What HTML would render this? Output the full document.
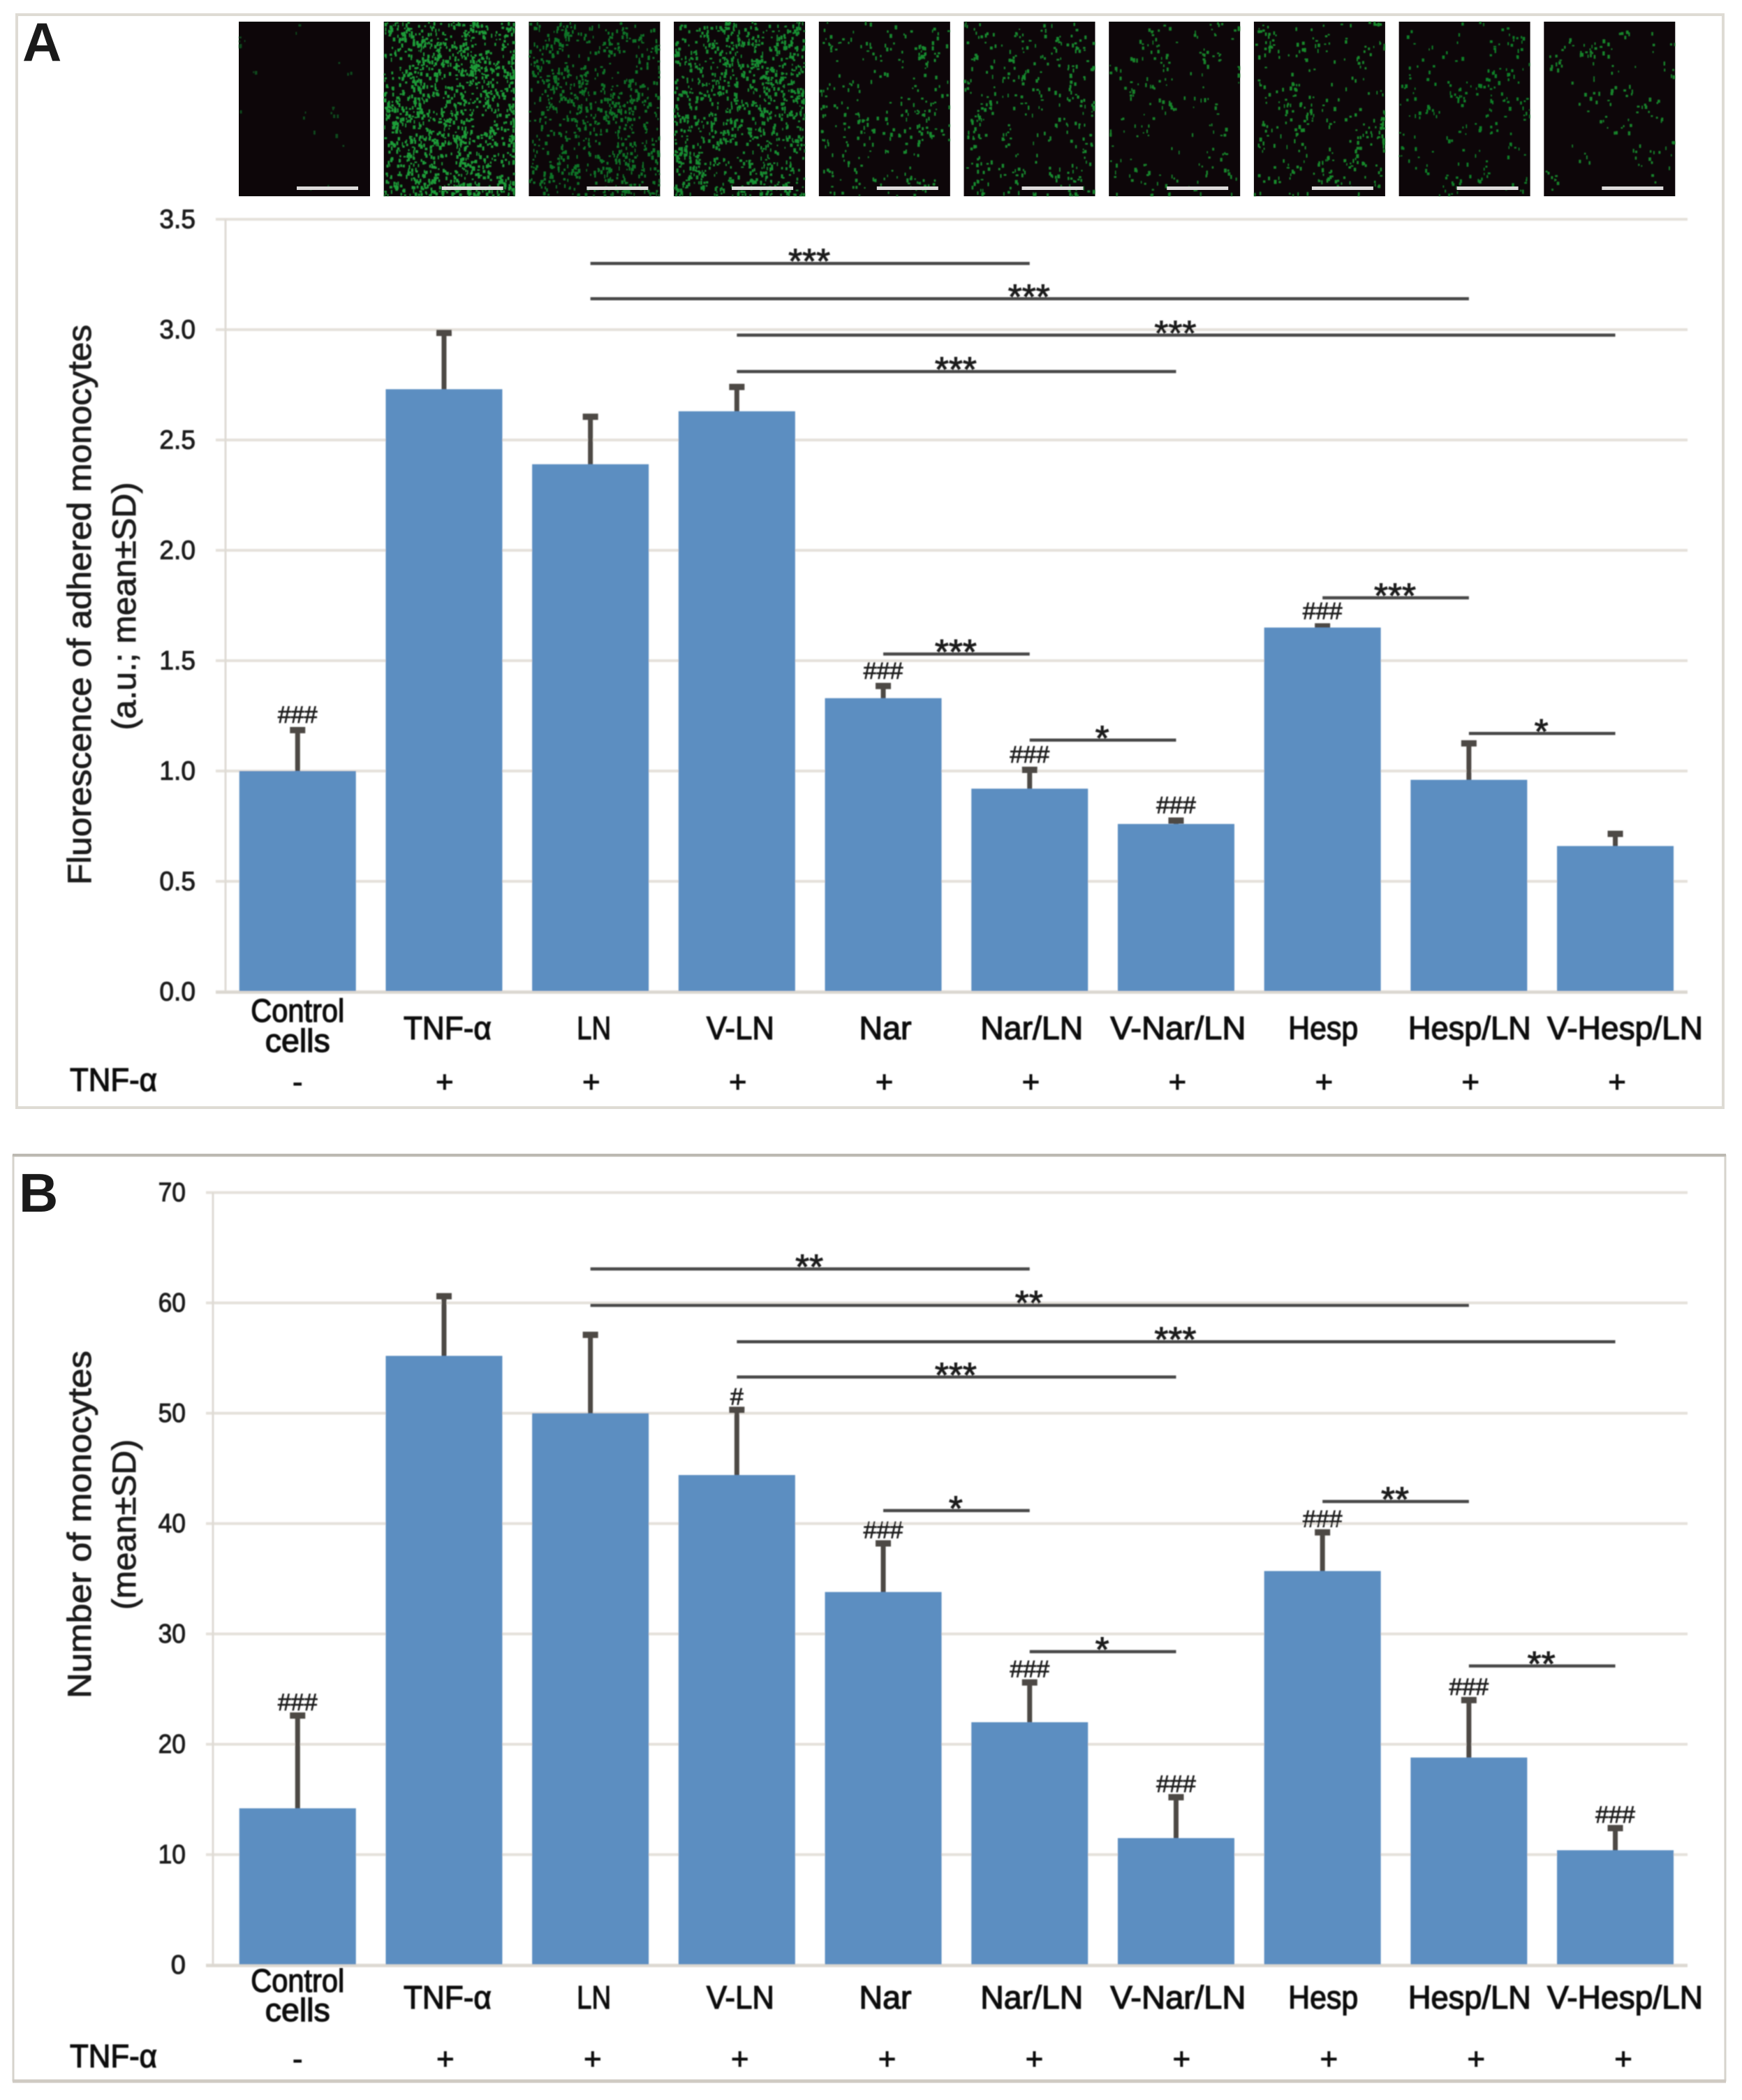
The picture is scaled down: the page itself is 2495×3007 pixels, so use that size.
<!DOCTYPE html>
<html lang="en">
<head>
<meta charset="utf-8">
<title>Monocyte adhesion charts</title>
<style>
html,body{margin:0;padding:0;background:#fff;width:2495px;height:3007px;overflow:hidden}
svg{display:block;position:absolute;left:0;top:0}
text{font-family:"Liberation Sans",sans-serif;fill:#111}
.tick{font-size:38px;fill:#1c1c1c;stroke:#1c1c1c;stroke-width:1px}
.cat{font-size:46px;stroke:#111;stroke-width:1.3px}
.title{font-size:47px;fill:#1c1c1c;stroke:#1c1c1c;stroke-width:.9px}
.sign{font-size:44px;stroke:#111;stroke-width:.9px}
.stars{font-size:50px;fill:#1c1c1c;stroke:#1c1c1c;stroke-width:1px}
.hash{font-size:34px;fill:#1c1c1c;stroke:#1c1c1c;stroke-width:.8px}
.letter{font-size:78px;font-weight:700;fill:#1a1a1a}
</style>
</head>
<body>
<svg id="figure" xmlns="http://www.w3.org/2000/svg" width="2495" height="3007" viewBox="0 0 2495 3007">
<defs>
<filter id="soft" x="-2%" y="-2%" width="104%" height="104%"><feGaussianBlur stdDeviation="0.9"/></filter>
</defs>
<rect width="2495" height="3007" fill="#ffffff"/>
<rect x="24" y="21" width="2444" height="1565" fill="#fff" stroke="#dedbd4" stroke-width="4"/>
<g>
<rect x="19" y="1655" width="2452" height="1324" fill="#fff" stroke="#d6d3cc" stroke-width="3"/>
<line x1="18" x2="2472" y1="1654" y2="1654" stroke="#bcb9b2" stroke-width="4"/>
<line x1="18" x2="2472" y1="2980" y2="2980" stroke="#cfcac3" stroke-width="5"/>
</g>
<g id="micrographs"></g>
<g id="chartA" filter="url(#soft)"></g>
<g id="chartB" filter="url(#soft)"></g>
<text class="letter" x="32" y="87">A</text>
<text class="letter" x="27" y="1735">B</text>
</svg>
<script>
const categories = ["Control cells", "TNF-α", "LN", "V-LN", "Nar", "Nar/LN", "V-Nar/LN", "Hesp", "Hesp/LN", "V-Hesp/LN"];
const tnfSigns = ["-", "+", "+", "+", "+", "+", "+", "+", "+", "+"];

const valuesA = [1.00, 2.73, 2.39, 2.63, 1.33, 0.92, 0.76, 1.65, 0.96, 0.66];
const errorsA = [0.19, 0.26, 0.22, 0.115, 0.06, 0.09, 0.02, 0.01, 0.17, 0.06];
const ticksA = [0, 0.5, 1, 1.5, 2, 2.5, 3, 3.5];
const tickLabelsA = ["0.0", "0.5", "1.0", "1.5", "2.0", "2.5", "3.0", "3.5"];
const hashesA = ["###", "", "", "", "###", "###", "###", "###", "", ""];
const sigFromA = [2, 2, 3, 3, 4, 5, 7, 8];
const sigToA = [5, 8, 9, 6, 5, 6, 8, 9];
const sigLevelA = [3.30, 3.14, 2.975, 2.81, 1.53, 1.14, 1.785, 1.17];
const sigStarsA = ["***", "***", "***", "***", "***", "*", "***", "*"];

const valuesB = [14.2, 55.2, 50.0, 44.4, 33.8, 22.0, 11.5, 35.7, 18.8, 10.4];
const errorsB = [8.5, 5.5, 7.2, 6.0, 4.5, 3.7, 3.8, 3.6, 5.3, 2.1];
const ticksB = [0, 10, 20, 30, 40, 50, 60, 70];
const tickLabelsB = ["0", "10", "20", "30", "40", "50", "60", "70"];
const hashesB = ["###", "", "", "#", "###", "###", "###", "###", "###", "###"];
const sigFromB = [2, 2, 3, 3, 4, 5, 7, 8];
const sigToB = [5, 8, 9, 6, 5, 6, 8, 9];
const sigLevelB = [63.08, 59.78, 56.48, 53.28, 41.18, 28.4, 42.0, 27.1];
const sigStarsB = ["**", "**", "***", "***", "*", "*", "**", "**"];

const speckCounts = [25, 1400, 800, 1050, 290, 330, 190, 300, 210, 130];

const NS = "http://www.w3.org/2000/svg";
const BAND = 209.7, BAR_START = 321.4, BAR_W = 167, GRID_RIGHT = 2417;
const catWidths = {"TNF-α":126,"LN":49,"V-LN":97,"Nar":75,"Nar/LN":147,"V-Nar/LN":194,"Hesp":100,"Hesp/LN":176,"V-Hesp/LN":223};
const tickWidth = t => t.length * 18.2 + (t.indexOf('.') >= 0 ? -3 : 3);
const catNudge = i => i === 9 ? 14 : i >= 7 ? 1 : i >= 4 ? 3 : 5;

function make(tag, attrs, parent, txt) {
  const el = document.createElementNS(NS, tag);
  for (const k in attrs) el.setAttribute(k, attrs[k]);
  if (txt !== undefined) el.textContent = txt;
  parent.appendChild(el);
  return el;
}
function bandCenter(i) { return BAR_START + BAND * i + BAND / 2; }
function categorySlug(i) { return categories[i].toLowerCase().replace(/[^a-z]+/g, '-'); }

function drawChart(cfg) {
  const root = cfg.root;
  const y = v => cfg.y0 - (v / cfg.max) * (cfg.y0 - cfg.yTop);

  cfg.ticks.forEach((t, i) => {
    const g = make('line', {x1: cfg.gridLeft, x2: GRID_RIGHT, y1: y(t), y2: y(t), stroke: '#e5e1db', 'stroke-width': 4}, root);
    
    
    const l = make('text', {class: 'tick', x: cfg.tickRight, y: y(t) + 12.5, 'text-anchor': 'end', textLength: tickWidth(cfg.tickLabels[i]), lengthAdjust: 'spacingAndGlyphs'}, root, cfg.tickLabels[i]);
    
    
  });
  const ax = make('line', {x1: cfg.axisX, x2: cfg.axisX, y1: y(cfg.max), y2: cfg.y0, stroke: '#dfdbd5', 'stroke-width': 3}, root);
  
  

  cfg.values.forEach((v, i) => {
    const cx = bandCenter(i);
    const top = y(v + cfg.errors[i]);
    const stem = make('line', {x1: cx, x2: cx, y1: y(v) + 2, y2: top, stroke: '#4e4a45', 'stroke-width': 7}, root);
    
    
    const cap = make('rect', {x: cx - 11, y: top - 3, width: 22, height: 9, fill: '#4e4a45'}, root);
    
    
    const bar = make('rect', {x: cx - BAR_W / 2, y: y(v), width: BAR_W, height: cfg.y0 - y(v), fill: '#5b8ec1'}, root);
    
    
    if (cfg.hashes[i]) {
      const h = make('text', {class: 'hash', x: cx, y: top - cfg.hashGap, 'text-anchor': 'middle'}, root, cfg.hashes[i]);
      
      
    }
  });

  const base = make('line', {x1: cfg.gridLeft, x2: GRID_RIGHT, y1: cfg.y0 + 1, y2: cfg.y0 + 1, stroke: '#dcd8d1', 'stroke-width': 4}, root);
  
  

  cfg.sigFrom.forEach((a, k) => {
    const b = cfg.sigTo[k], ly = y(cfg.sigLevel[k]);
    const line = make('line', {x1: bandCenter(a), x2: bandCenter(b), y1: ly, y2: ly, stroke: '#484848', 'stroke-width': 4.5}, root);
    
    
    const s = cfg.sigStars[k];
    const st = make('text', {class: 'stars', x: (bandCenter(a) + bandCenter(b)) / 2 - 1, y: ly + 14, 'text-anchor': 'middle', textLength: s.length * 20, lengthAdjust: 'spacingAndGlyphs'}, root, s);
    
    
  });

  categories.forEach((c, i) => {
    const cx = bandCenter(i);
    if (i === 0) {
      const c1 = make('text', {class: 'cat', x: cx, y: cfg.ctrlY1, 'text-anchor': 'middle', textLength: 134, lengthAdjust: 'spacingAndGlyphs'}, root, 'Control');
      
      
      const c2 = make('text', {class: 'cat', x: cx, y: cfg.ctrlY2, 'text-anchor': 'middle', textLength: 93, lengthAdjust: 'spacingAndGlyphs'}, root, 'cells');
      
      
    } else {
      const t = make('text', {class: 'cat', x: cx + catNudge(i), y: cfg.catY, 'text-anchor': 'middle', textLength: catWidths[c], lengthAdjust: 'spacingAndGlyphs'}, root, c);
      
      
    }
    const sx = i === 0 ? cx : cfg.signStart + cfg.signStep * i;
    const sg = make('text', {class: 'sign', x: sx, y: cfg.signY, 'text-anchor': 'middle'}, root, tnfSigns[i]);
    
    
  });

  const row = make('text', {class: 'cat', x: 100, y: cfg.rowY, textLength: 125, lengthAdjust: 'spacingAndGlyphs'}, root, 'TNF-α');
  
  

  const t1 = make('text', {class: 'title', transform: 'translate(130,' + cfg.title1Y + ') rotate(-90)', 'text-anchor': 'middle', textLength: cfg.title1W, lengthAdjust: 'spacingAndGlyphs'}, root, cfg.title1);
  
  
  const t2 = make('text', {class: 'title', transform: 'translate(194,' + cfg.title2Y + ') rotate(-90)', 'text-anchor': 'middle', textLength: cfg.title2W, lengthAdjust: 'spacingAndGlyphs'}, root, cfg.title2);
  
  
}

drawChart({
  root: document.getElementById('chartA'), values: valuesA, errors: errorsA, ticks: ticksA, tickLabels: tickLabelsA,
  hashes: hashesA, sigFrom: sigFromA, sigTo: sigToA, sigLevel: sigLevelA, sigStars: sigStarsA,
  max: 3.5, y0: 1420, yTop: 314, gridLeft: 309, axisX: 323, tickRight: 280, hashGap: 9,
  catY: 1488, ctrlY1: 1463, ctrlY2: 1506, signY: 1564, signStart: 427, signStep: 209.9, rowY: 1562,
  title1: 'Fluorescence of adhered monocytes', title1Y: 866, title1W: 802,
  title2: '(a.u.; mean±SD)', title2Y: 868, title2W: 355
});
drawChart({
  root: document.getElementById('chartB'), values: valuesB, errors: errorsB, ticks: ticksB, tickLabels: tickLabelsB,
  hashes: hashesB, sigFrom: sigFromB, sigTo: sigToB, sigLevel: sigLevelB, sigStars: sigStarsB,
  max: 70, y0: 2813.7, yTop: 1707.6, gridLeft: 295, axisX: 305, tickRight: 266, hashGap: 6,
  catY: 2876, ctrlY1: 2852, ctrlY2: 2894, signY: 2963, signStart: 427, signStep: 210.9, rowY: 2960,
  title1: 'Number of monocytes', title1Y: 2183, title1W: 498,
  title2: '(mean±SD)', title2Y: 2183, title2W: 244
});

/* micrograph texture: deterministic, clumped speck pattern, not chart data */
(function () {
  const host = document.getElementById('micrographs');
  const speckColors = ['#0c4a1b', '#1c9c38', '#107428', '#178f33', '#138a2e', '#138a2e', '#128429', '#128a2c', '#118028', '#128429'];
  let seed = 20231;
  const rnd = () => (seed = (seed * 1664525 + 1013904223) >>> 0) / 4294967296;
  speckCounts.forEach((count, i) => {
    const left = 342 + 207.7 * i, w = 188, top = 31, h = 250;
    const g = make('g', {}, host);
    
    
    const bg = make('rect', {x: left, y: top, width: w, height: h, fill: '#0d0609'}, g);
    
    
    let d = '', px = left + w / 2, py = top + h / 2;
    for (let n = 0; n < count; n++) {
      const sw = 1.5 + rnd() * 2.5, sh = 2 + rnd() * 4;
      let x, yy;
      if (rnd() < 0.4) {
        x = px + (rnd() - 0.5) * 16;
        yy = py + (rnd() - 0.5) * 22;
      } else {
        x = left + rnd() * w;
        yy = top + rnd() * h;
      }
      x = Math.min(Math.max(x, left), left + w - sw);
      yy = Math.min(Math.max(yy, top), top + h - sh);
      px = x; py = yy;
      d += 'M' + x.toFixed(1) + ' ' + yy.toFixed(1) + 'h' + sw.toFixed(1) + 'v' + sh.toFixed(1) + 'h-' + sw.toFixed(1) + 'z';
    }
    const specks = make('path', {d: d, fill: speckColors[i], filter: 'url(#soft)'}, g);
    
    
    const scale = make('rect', {x: left + 83, y: top + 236, width: 88, height: 5, fill: '#dcdada'}, g);
    
    
  });
})();
</script>
</body>
</html>
